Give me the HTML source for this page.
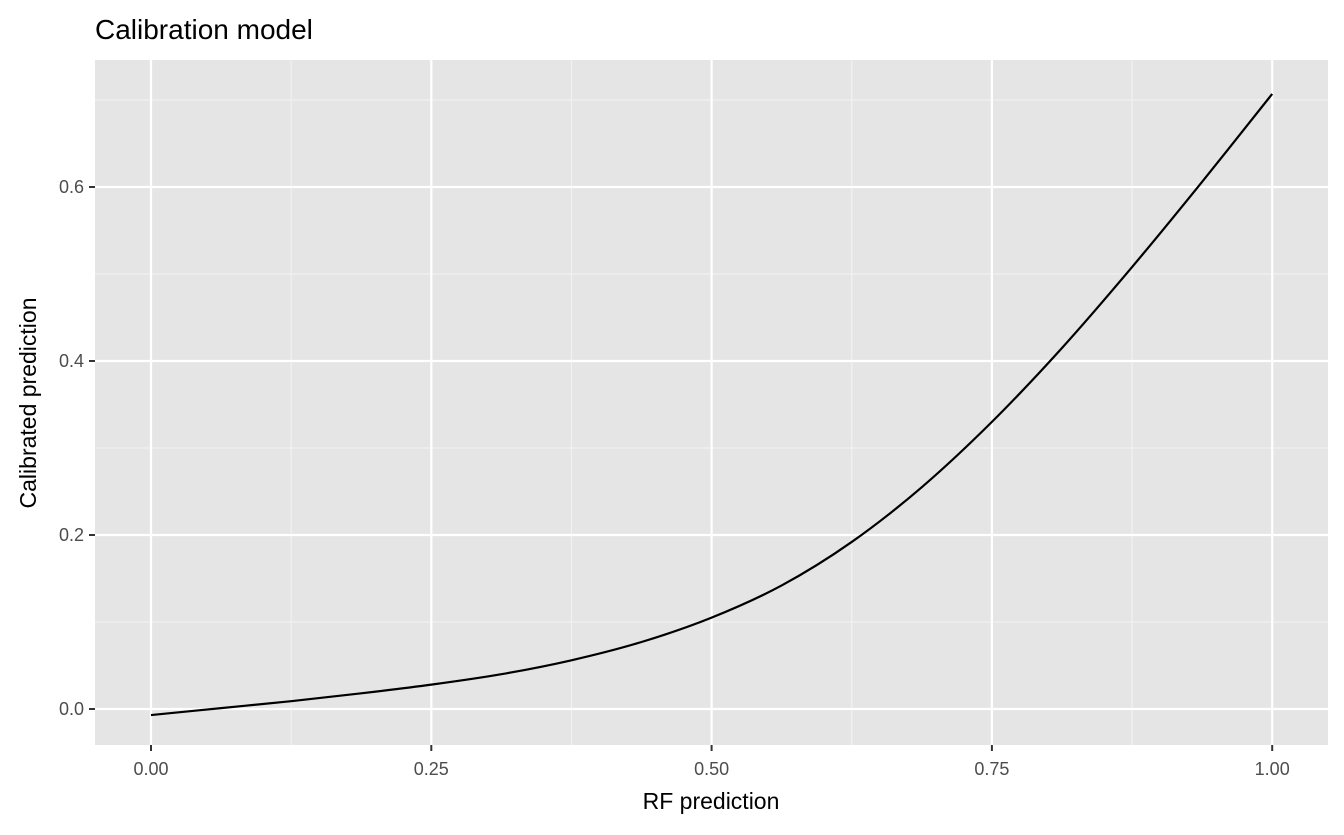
<!DOCTYPE html>
<html><head><meta charset="utf-8"><style>
body{margin:0;background:#fff;font-family:"Liberation Sans",Arial,sans-serif}
</style></head><body>
<svg id="chart" width="1344" height="830" xmlns="http://www.w3.org/2000/svg">
<text x="95" y="39" font-size="28" fill="#000">Calibration model</text>
<rect x="95" y="60" width="1233" height="685" fill="#e5e5e5"/>
<g id="grid"></g>
<g id="series"></g>
<g id="axes"></g>
<text x="711" y="809" font-size="23" text-anchor="middle" fill="#000">RF prediction</text>
<text transform="translate(36,403) rotate(-90)" font-size="23" text-anchor="middle" fill="#000">Calibrated prediction</text>
</svg>
<script>
const xTicks=[0,0.25,0.5,0.75,1.0];
const xTickLabels=["0.00","0.25","0.50","0.75","1.00"];
const yTicks=[0,0.2,0.4,0.6];
const yTickLabels=["0.0","0.2","0.4","0.6"];
const xMinor=[0.125,0.375,0.625,0.875];
const yMinor=[0.1,0.3,0.5,0.7];
const curveX=[0,0.0625,0.125,0.1875,0.25,0.3125,0.375,0.4375,0.5,0.5625,0.625,0.6875,0.75,0.8125,0.875,0.9375,1.0];
const curveY=[-0.007,0.001,0.009,0.018,0.028,0.040,0.056,0.077,0.105,0.142,0.192,0.255,0.330,0.415,0.508,0.606,0.707];
const NS="http://www.w3.org/2000/svg";
const sx=v=>151+v*1121.2;
const sy=v=>709-v*870;
function mk(tag,attrs,parent){const e=document.createElementNS(NS,tag);for(const k in attrs)e.setAttribute(k,attrs[k]);parent.appendChild(e);return e;}
const grid=document.getElementById('grid'),axes=document.getElementById('axes'),series=document.getElementById('series');
xMinor.forEach(v=>{const l=mk('line',{x1:sx(v),x2:sx(v),y1:60,y2:745,stroke:'#f2f2f2','stroke-width':1.1},grid);

});
yMinor.forEach(v=>{const l=mk('line',{x1:95,x2:1328,y1:sy(v),y2:sy(v),stroke:'#f2f2f2','stroke-width':1.1},grid);

});
xTicks.forEach((v,i)=>{const l=mk('line',{x1:sx(v),x2:sx(v),y1:60,y2:745,stroke:'#fff','stroke-width':2.2},grid);


const t=mk('line',{x1:sx(v),x2:sx(v),y1:745,y2:751,stroke:'#333','stroke-width':2},axes);


const tx=mk('text',{x:sx(v),y:775,'font-size':18,'text-anchor':'middle',fill:'#4d4d4d'},axes);tx.textContent=xTickLabels[i];

});
yTicks.forEach((v,i)=>{const l=mk('line',{x1:95,x2:1328,y1:sy(v),y2:sy(v),stroke:'#fff','stroke-width':2.2},grid);


const t=mk('line',{x1:89,x2:95,y1:sy(v),y2:sy(v),stroke:'#333','stroke-width':2},axes);


const tx=mk('text',{x:84,y:sy(v)+6,'font-size':18,'text-anchor':'end',fill:'#4d4d4d'},axes);tx.textContent=yTickLabels[i];

});
const pts=curveX.map((x,i)=>[sx(x),sy(curveY[i])]);
let d=`M${pts[0][0]},${pts[0][1]}`;
for(let i=0;i<pts.length-1;i++){const p0=pts[Math.max(i-1,0)],p1=pts[i],p2=pts[i+1],p3=pts[Math.min(i+2,pts.length-1)];
d+=` C${p1[0]+(p2[0]-p0[0])/6},${p1[1]+(p2[1]-p0[1])/6} ${p2[0]-(p3[0]-p1[0])/6},${p2[1]-(p3[1]-p1[1])/6} ${p2[0]},${p2[1]}`;}
const path=mk('path',{d:d,fill:'none',stroke:'#000','stroke-width':2.2},series);


</script>
</body></html>
